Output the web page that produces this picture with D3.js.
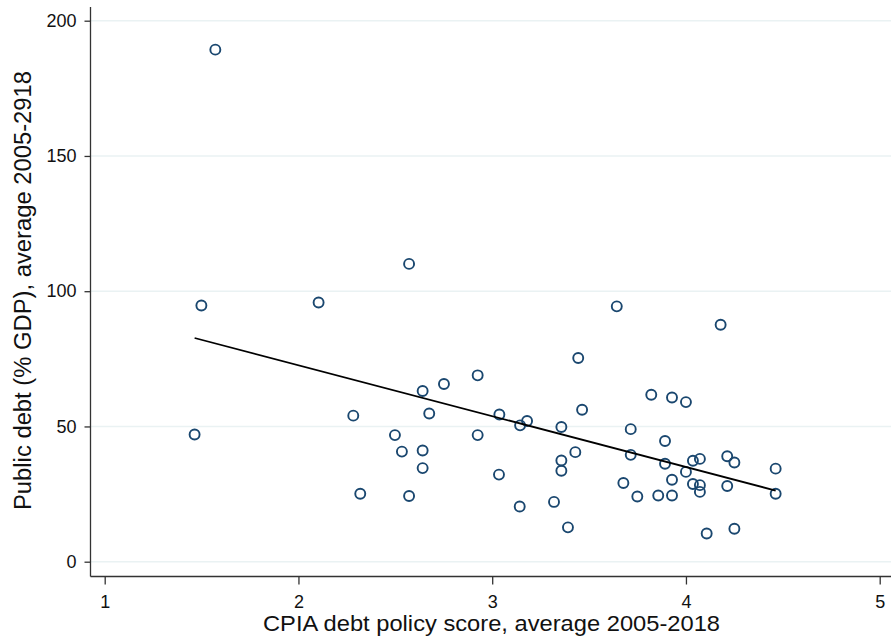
<!DOCTYPE html>
<html><head><meta charset="utf-8">
<script src="https://cdn.jsdelivr.net/npm/d3@7/dist/d3.min.js"></script>
<style>body{margin:0;background:#fff}svg{display:block}text{font-family:"Liberation Sans",Arial,sans-serif}</style>
</head><body>
<script>
const cpiaScore = [1.571,2.571,1.499,2.104,1.464,2.283,2.319,2.498,2.534,2.641,2.641,2.641,2.571,2.675,2.751,2.925,2.925,
3.643,4.179,3.444,3.821,3.928,4.0,3.464,3.037,3.180,3.144,3.357,3.715,3.892,3.429,3.715,3.357,4.036,4.072,4.213,4.250,3.892,4.463,3.357,4.0,3.035,3.928,3.677,4.036,4.072,4.213,4.072,4.463,3.749,3.857,3.928,3.319,3.142,3.391,4.107,4.250];
const publicDebt = [189.3,110.1,94.7,95.8,47.0,54.0,25.1,46.8,40.7,63.1,41.1,34.6,24.3,54.8,65.7,68.9,46.8,
94.4,87.6,75.3,61.7,60.7,59.0,56.2,54.4,52.0,50.4,49.8,49.0,44.6,40.5,39.5,37.4,37.3,38.0,39.0,36.7,36.2,34.4,33.6,33.2,32.2,30.3,29.1,28.7,28.3,28.0,25.8,25.1,24.1,24.5,24.5,22.1,20.4,12.7,10.4,12.2];
const fitX = [1.464, 4.463];
const fitY = [82.7, 26.3];
const xTicks = [1,2,3,4,5];
const yTicks = [0,50,100,150,200];
const xTitle = "CPIA debt policy score, average 2005-2018";
const yTitle = "Public debt (% GDP), average 2005-2918";

(function(){
const W=891,H=640;
const svg=d3.select("body").append("svg").attr("width",W).attr("height",H);
const x=d3.scaleLinear().domain([1,5]).range([104.7,879.7]);
const y=d3.scaleLinear().domain([0,200]).range([561.7,20.7]);
const pL=90.5, pB=576.5, pT=7, pR=891;

svg.append("g").selectAll("line").data(yTicks).join("line")
  .attr("x1",pL).attr("x2",pR).attr("y1",d=>y(d)).attr("y2",d=>y(d))
  .attr("stroke","#eaf2f3").attr("stroke-width",1.5);

const ya=svg.append("g").attr("transform",`translate(${pL},0)`)
  .call(d3.axisLeft(y).tickValues(yTicks).tickFormat(d3.format("d")).tickSize(6).tickPadding(8).tickSizeOuter(0));
ya.select(".domain").attr("d",`M0,${pT}V${pB}`);
const xa=svg.append("g").attr("transform",`translate(0,${pB})`)
  .call(d3.axisBottom(x).tickValues(xTicks).tickFormat(d3.format("d")).tickSize(8).tickPadding(11).tickSizeOuter(0));
xa.select(".domain").attr("d",`M${pL},0H${pR}`);
[ya,xa].forEach(a=>{
  a.selectAll(".domain,.tick line").attr("stroke","#333").attr("stroke-width",1.3);
  a.selectAll("text").attr("font-size",18).attr("fill","#111").attr("font-family","Liberation Sans, Arial, sans-serif");
});

svg.append("g").selectAll("circle").data(cpiaScore.map((v,i)=>[v,publicDebt[i]])).join("circle")
  .attr("cx",d=>x(d[0])).attr("cy",d=>y(d[1])).attr("r",5)
  .attr("fill","none").attr("stroke","#1a476f").attr("stroke-width",1.9);

svg.append("path").datum(fitX.map((v,i)=>[v,fitY[i]]))
  .attr("d",d3.line().x(d=>x(d[0])).y(d=>y(d[1])))
  .attr("stroke","#000").attr("stroke-width",1.8).attr("fill","none");

svg.append("text").attr("x",491.5).attr("y",631).attr("text-anchor","middle")
  .attr("font-size",22.5).attr("fill","#111")
  .attr("textLength",457).attr("lengthAdjust","spacingAndGlyphs").text(xTitle);
svg.append("text").attr("transform",`translate(31,290.5) rotate(-90)`).attr("text-anchor","middle")
  .attr("font-size",23.5).attr("fill","#111")
  .attr("textLength",439).attr("lengthAdjust","spacingAndGlyphs").text(yTitle);
})();
</script>
</body></html>
